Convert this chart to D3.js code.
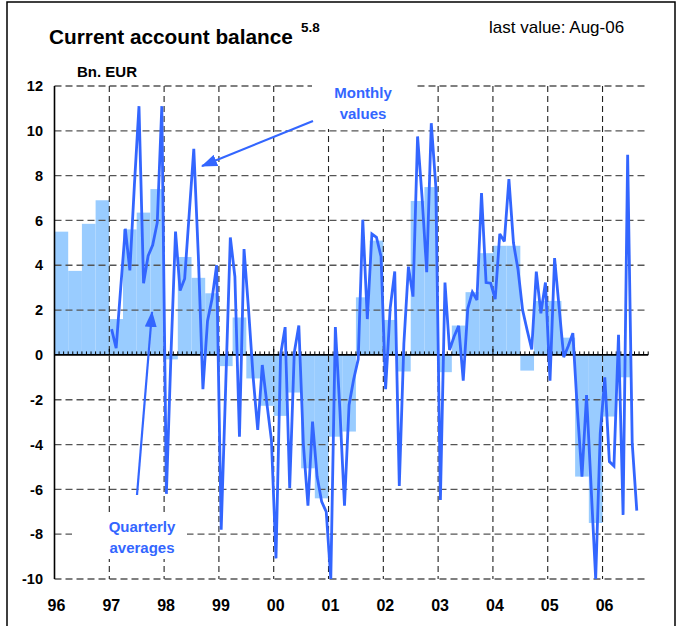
<!DOCTYPE html>
<html><head><meta charset="utf-8">
<script src="https://cdn.jsdelivr.net/npm/d3@7"></script>
<style>
body{margin:0;background:#fff}
svg{display:block}
text{font-family:"Liberation Sans",Arial,Helvetica,sans-serif}
</style>
</head><body>
<svg id="chart" width="687" height="626"></svg>
<script>
// ---------- DATA ----------
const yearLabels = ["96","97","98","99","00","01","02","03","04","05","06"];
const yTickValues = [-10,-8,-6,-4,-2,0,2,4,6,8,10,12];

// Quarterly averages, 1996Q1 .. 2006Q2 (Bn. EUR)
const quarterlyAverages = [
  5.5, 3.75, 5.85, 6.9,      // 1996
  1.6, 5.6, 6.35, 7.4,       // 1997
  -0.2, 4.37, 3.44, 2.75,    // 1998
  -0.5, 1.67, -1.05, -2.27,  // 1999
  -2.72, -1.68, -5.06, -6.4, // 2000
  -3.65, -3.42, 2.57, 5.1,   // 2001
  1.56, -0.74, 6.87, 7.49,   // 2002
  -0.77, 1.31, 2.8, 4.54,    // 2003
  4.87, 4.87, -0.7, 2.41,    // 2004
  2.41, 0.77, -5.43, -7.5,   // 2005
  -2.75, -1.0                // 2006
];

// Monthly values, Jan 1997 .. Aug 2006 (Bn. EUR)
const monthlyValues = [
  1.15, 0.3, 3.0, 5.63, 3.77, 7.6, 11.1, 3.2, 4.42, 4.9, 5.9, 11.1,        // 1997
  -6.2, 0.0, 5.5, 2.87, 3.4, 6.3, 9.2, 4.4, -1.53, 1.5, 2.5, 4.0,          // 1998
  -7.8, -1.3, 5.24, 3.5, -3.65, 4.72, 2.0, -1.0, -3.35, -0.45, -2.16, -3.8, // 1999
  -9.08, 0.0, 1.24, -5.95, 0.1, 1.31, -4.0, -6.73, -2.98, -5.43, -6.55, -7.0, // 2000
  -10.0, 1.24, -2.5, -6.73, -2.23, -1.1, -0.2, 6.03, 1.6, 5.4, 5.25, 4.39, // 2001
  -1.53, 2.08, 3.72, -5.85, 0.5, 3.94, 2.6, 9.75, 7.0, 3.69, 10.34, 7.5,   // 2002
  -6.47, 3.23, 0.22, 0.82, 1.3, -1.15, 2.08, 2.8, 2.45, 7.22, 3.23, 3.2,   // 2003
  2.49, 5.4, 5.06, 7.84, 4.99, 3.8, 2.0, 1.1, 0.25, 3.72, 1.86, 3.23,      // 2004
  -1.15, 4.32, 2.1, -0.1, 0.4, 0.97, -2.5, -5.43, -1.79, -5.9, -10.0, -3.5, // 2005
  -1.0, -4.76, -4.96, 0.9, -7.14, 8.93, -3.94, -6.95                       // 2006
];
const monthlyStartOffset = 12; // months after Jan 1996 (Jan 1997)
const totalMonths = 130;       // axis span in months from Jan 1996

const titleText = "Current account balance";
const titleSup = "5.8";
const lastValueText = "last value: Aug-06";
const unitText = "Bn. EUR";
const monthlyLabel = ["Monthly", "values"];
const quarterlyLabel = ["Quarterly", "averages"];

// ---------- CHART ----------
const lineColor = "#3366ff";
const barColor = "#99ccff";
const svg = d3.select("#chart");

const x = d3.scaleLinear().domain([0, totalMonths]).range([54.5, 648.2]);
const y = d3.scaleLinear().domain([-10, 12]).range([579, 86]);

// frame
svg.append("path").attr("d", "M7,640V2H675V640")
  .attr("fill", "none").attr("stroke", "#000").attr("stroke-width", 1.5);

// titles
svg.append("text").attr("x", 49).attr("y", 44)
  .attr("font-size", 20.8).attr("font-weight", "bold").attr("fill", "#000").text(titleText);
svg.append("text").attr("x", 301).attr("y", 32)
  .attr("font-size", 13.5).attr("font-weight", "bold").text(titleSup);
svg.append("text").attr("x", 489).attr("y", 33)
  .attr("font-size", 17).text(lastValueText);
svg.append("text").attr("x", 77).attr("y", 77)
  .attr("font-size", 15).attr("font-weight", "bold").text(unitText);

// quarterly bars
svg.append("g").selectAll("rect").data(quarterlyAverages).join("rect")
  .attr("x", (d, i) => x(i * 3))
  .attr("width", (d, i) => x(i * 3 + 3) - x(i * 3))
  .attr("y", d => y(Math.max(0, d)))
  .attr("height", d => Math.abs(y(d) - y(0)))
  .attr("fill", barColor);

// horizontal gridlines
svg.append("g").selectAll("line").data(yTickValues.filter(v => v !== 0)).join("line")
  .attr("x1", x(0)).attr("x2", x(totalMonths))
  .attr("y1", d => y(d)).attr("y2", d => y(d))
  .attr("stroke", "#555").attr("stroke-width", 1.3).attr("stroke-dasharray", "7,4");

// vertical gridlines at year starts
const yearIdx = d3.range(1, yearLabels.length);
svg.append("g").selectAll("line").data(yearIdx).join("line")
  .attr("x1", d => x(d * 12)).attr("x2", d => x(d * 12))
  .attr("y1", y(12)).attr("y2", y(-10))
  .attr("stroke", "#222").attr("stroke-width", 1.1).attr("stroke-dasharray", "6,4");

// label backgrounds
svg.append("rect").attr("x", 312).attr("y", 80).attr("width", 102).attr("height", 49).attr("fill", "#fff");
svg.append("rect").attr("x", 72).attr("y", 515).attr("width", 115).attr("height", 44).attr("fill", "#fff");

// zero line with monthly ticks
svg.append("line").attr("x1", x(0)).attr("x2", x(totalMonths))
  .attr("y1", y(0)).attr("y2", y(0)).attr("stroke", "#000").attr("stroke-width", 1.6);
svg.append("g").selectAll("line").data(d3.range(0, totalMonths + 1)).join("line")
  .attr("x1", d => x(d)).attr("x2", d => x(d))
  .attr("y1", y(0)).attr("y2", d => y(0) - (d % 12 === 0 ? 6 : 3.5))
  .attr("stroke", "#000").attr("stroke-width", 1);

// left axis
svg.append("line").attr("x1", x(0)).attr("x2", x(0)).attr("y1", y(12)).attr("y2", y(-10))
  .attr("stroke", "#000").attr("stroke-width", 1.6);

// y tick labels
svg.append("g").selectAll("text").data(yTickValues).join("text")
  .attr("x", 43).attr("y", d => y(d)).attr("dy", "0.36em")
  .attr("text-anchor", "end").attr("font-size", 14.5).attr("font-weight", "bold")
  .text(d => d);

// x labels
svg.append("g").selectAll("text").data(yearLabels).join("text")
  .attr("x", (d, i) => x(i * 12) + 2).attr("y", 611)
  .attr("text-anchor", "middle").attr("font-size", 16).attr("font-weight", "bold")
  .text(d => d);

// monthly line
const line = d3.line()
  .x((d, i) => x(monthlyStartOffset + i + 0.5))
  .y(d => y(d));
svg.append("path").datum(monthlyValues).attr("d", line)
  .attr("fill", "none").attr("stroke", lineColor).attr("stroke-width", 2.8)
  .attr("stroke-linejoin", "miter").attr("stroke-miterlimit", 3);

// arrows
const defs = svg.append("defs");
defs.append("marker").attr("id", "ah").attr("viewBox", "0 0 16 12")
  .attr("refX", 15).attr("refY", 6).attr("markerWidth", 16).attr("markerHeight", 12)
  .attr("markerUnits", "userSpaceOnUse").attr("orient", "auto")
  .append("path").attr("d", "M0,0L16,6L0,12Z").attr("fill", lineColor);
svg.append("line").attr("x1", 313).attr("y1", 121).attr("x2", 202).attr("y2", 166)
  .attr("stroke", lineColor).attr("stroke-width", 2.2).attr("marker-end", "url(#ah)");
svg.append("line").attr("x1", 137).attr("y1", 495).attr("x2", 152).attr("y2", 312)
  .attr("stroke", lineColor).attr("stroke-width", 2.2).attr("marker-end", "url(#ah)");

// annotation labels
svg.append("g").selectAll("text").data(monthlyLabel).join("text")
  .attr("x", 363).attr("y", (d, i) => 98 + i * 21)
  .attr("text-anchor", "middle").attr("font-size", 15).attr("font-weight", "bold")
  .attr("fill", lineColor).text(d => d);
svg.append("g").selectAll("text").data(quarterlyLabel).join("text")
  .attr("x", 142).attr("y", (d, i) => 532 + i * 21)
  .attr("text-anchor", "middle").attr("font-size", 15).attr("font-weight", "bold")
  .attr("fill", lineColor).text(d => d);
</script>
</body></html>
